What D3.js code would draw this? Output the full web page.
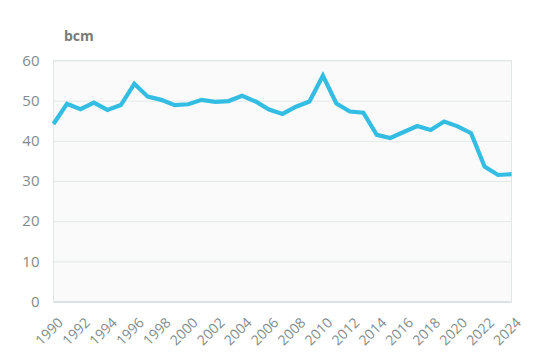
<!DOCTYPE html>
<html><head><meta charset="utf-8">
<script src="https://cdn.jsdelivr.net/npm/d3@7"></script>
<style>body{margin:0;background:#fff;} svg{display:block;}</style>
</head><body>
<svg id="c" width="550" height="356"></svg>
<script>
const years = d3.range(1990, 2025);
const values = [44.2,49.2,47.9,49.5,47.7,48.9,54.2,51.0,50.2,48.9,49.1,50.2,49.7,49.9,51.2,49.8,47.8,46.7,48.5,49.8,56.2,49.3,47.3,47.0,41.5,40.7,42.2,43.7,42.7,44.8,43.6,41.9,33.6,31.5,31.7];
const yTicks = [0,10,20,30,40,50,60];
const xTickYears = d3.range(1990, 2025, 2);
const unitLabel = "bcm";

const svg = d3.select("#c");
const m = {l:53.5, r:511.5, t:60.5, b:301.5};
const x = d3.scaleLinear().domain([1990,2024]).range([m.l, m.r]);
const y = d3.scaleLinear().domain([0,60]).range([m.b, m.t]);

svg.append("rect").attr("x",m.l).attr("y",m.t).attr("width",m.r-m.l).attr("height",m.b-m.t)
  .attr("fill","#fafafa").attr("stroke","#e1e6e6").attr("stroke-width",1);

const gy = svg.append("g").attr("transform",`translate(${m.l},0)`)
  .call(d3.axisLeft(y).tickValues(yTicks).tickSize(-(m.r-m.l)).tickPadding(14));
gy.select(".domain").remove();
gy.selectAll(".tick line").attr("stroke","#e3e8e8");
gy.selectAll(".tick text").attr("fill","#7f8c8d").attr("font-family","'Open Sans', sans-serif").attr("font-size","15px");

svg.append("line").attr("x1",m.l).attr("x2",m.r).attr("y1",m.b+0.5).attr("y2",m.b+0.5).attr("stroke","#dde3e5").attr("stroke-width",2);

const gx = svg.append("g").attr("transform",`translate(0,${m.b})`)
  .call(d3.axisBottom(x).tickValues(xTickYears).tickFormat(d3.format("d")).tickSize(0));
gx.select(".domain").remove();
gx.selectAll(".tick text").attr("fill","#7f8c8d").attr("font-family","'Open Sans', sans-serif").attr("font-size","14px")
  .attr("text-anchor","end").attr("dy","0").attr("y",0)
  .attr("transform","translate(10,22) rotate(-45)");

svg.append("text").attr("x",64).attr("y",41).text(unitLabel)
  .attr("fill","#7a7a7a").attr("font-family","'Open Sans', sans-serif").attr("font-weight","bold").attr("font-size","14px");

const line = d3.line().x((d,i)=>x(years[i])).y(d=>y(d));
svg.append("path").datum(values).attr("d",line).attr("fill","none")
  .attr("stroke","#33bde3").attr("stroke-width",4.2).attr("stroke-linejoin","miter");
</script>
</body></html>
